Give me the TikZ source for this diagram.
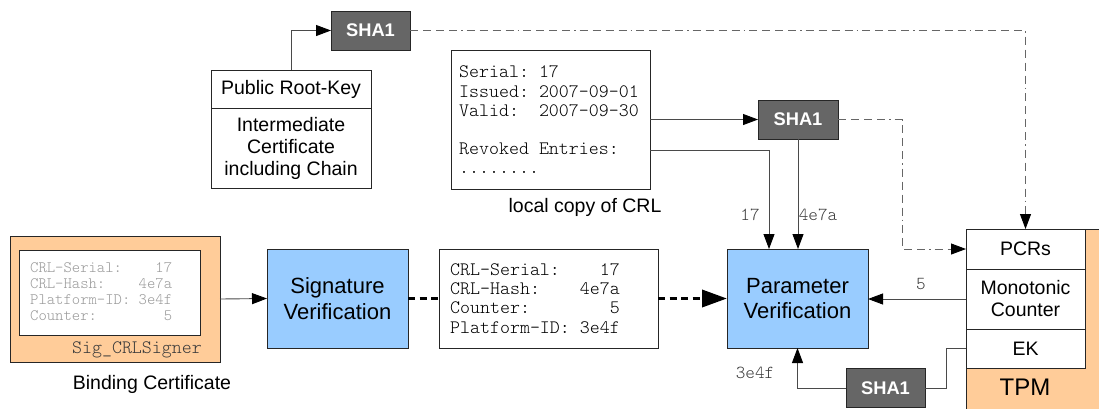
\documentclass[tikz,border=0pt]{standalone}
\usepackage{fontspec}
\setmainfont{Liberation Sans}
\setsansfont{Liberation Sans}
\setmonofont{Latin Modern Mono Light}
\usetikzlibrary{arrows.meta,calc}

\definecolor{hashgray}{HTML}{666666}
\definecolor{vblue}{HTML}{99CCFF}
\definecolor{torange}{HTML}{FFCC99}
\definecolor{linegray}{HTML}{4A4A4A}
\definecolor{labelgray}{HTML}{3A3A3A}
\definecolor{fadedtext}{HTML}{999999}

\begin{document}
\begin{tikzpicture}[x=1pt,y=-1pt,
  box/.style={draw=black!85, line width=0.8pt, inner sep=0pt, outer sep=0pt},
  hashbox/.style={box, fill=hashgray, text=white,
    font=\fontsize{18.3}{20}\selectfont\bfseries,
    minimum width=79pt, minimum height=39pt},
  verifybox/.style={box, fill=vblue, align=center,
    font=\fontsize{22}{25.5}\selectfont,
    minimum width=141pt, minimum height=99pt},
  whitebox/.style={box, fill=white, align=center,
    font=\fontsize{19.5}{22}\selectfont},
  monotext/.style={inner sep=0pt, align=left,
    font=\fontsize{19}{19.2}\selectfont\ttfamily},
  fadedmono/.style={inner sep=0pt, align=left, text=fadedtext,
    font=\fontsize{15.9}{16}\selectfont\ttfamily},
  caption/.style={inner sep=0pt, font=\fontsize{19.5}{22}\selectfont},
  edgelabel/.style={inner sep=0pt, text=labelgray,
    font=\fontsize{18.3}{18}\selectfont\ttfamily},
  tip/.style={-{Triangle[length=15pt,width=11pt,color=black]}},
  conn/.style={draw=linegray, line width=0.9pt},
  bigdash/.style={draw=black, line width=3.6pt, dash pattern=on 7pt off 4.5pt},
  hashlink/.style={draw=hashgray, line width=0.9pt,
    dash pattern=on 8pt off 5pt on 8pt off 5pt on 8pt off 5pt on 8pt off 4pt on 1.5pt off 4pt}
]
\useasboundingbox (0,0) rectangle (1099,408);

% --- root key certificate and its hash
\node[hashbox] (sha1top) at (370.5,30.5) {SHA1};
\node[whitebox, minimum width=160pt, minimum height=38pt] (rootkey) at (291,89) {Public Root-Key};
\node[whitebox, minimum width=160pt, minimum height=80pt] (chain) at (291,148)
  {Intermediate\\Certificate\\including Chain};

% --- local CRL and its hash
\node[box, minimum width=199pt, minimum height=139pt] (crl) at (550.5,119.5) {};
\node[monotext, anchor=west] (crltext) at (459,120)
  {Serial:~17\\Issued:~2007-09-01\\Valid:~~2007-09-30\\[19.2pt]Revoked~Entries:\\........};
\node[caption] (crlcap) at (585,207) {local copy of CRL};
\node[hashbox, minimum width=80pt] (sha1mid) at (798,119.5) {SHA1};

% --- binding certificate
\node[box, fill=torange, minimum width=210pt, minimum height=126pt] (binding) at (115,299) {};
\node[box, fill=white, minimum width=181pt, minimum height=85pt] (bindinner) at (109.5,292.5) {};
\node[fadedmono, anchor=west] (bindtext) at (30,292)
  {CRL-Serial:~~~~17\\CRL-Hash:~~~~4e7a\\Platform-ID:~3e4f\\Counter:~~~~~~~~5};
\node[monotext, text=labelgray, anchor=east] (signer) at (202,350) {Sig\_CRLSigner};
\node[caption] (bindcap) at (152,384) {Binding Certificate};

% --- verification steps
\node[verifybox] (sigver) at (337.5,298.5) {Signature\\Verification};
\node[box, minimum width=219pt, minimum height=99pt] (params) at (548.5,298.5) {};
\node[monotext, anchor=west] (paramtext) at (450,298.5)
  {CRL-Serial:~~~~17\\CRL-Hash:~~~~4e7a\\Counter:~~~~~~~~5\\Platform-ID:~3e4f};
\node[verifybox] (parver) at (797.5,298.5) {Parameter\\Verification};

% --- TPM
\node[box, fill=torange, minimum width=144pt, minimum height=186pt] (tpm) at (1038,322) {};
\node[whitebox, minimum width=119pt, minimum height=40pt] (pcrs) at (1025.5,249) {PCRs};
\node[whitebox, minimum width=119pt, minimum height=60pt] (counter) at (1025.5,299)
  {Monotonic\\Counter};
\node[whitebox, minimum width=119pt, minimum height=39pt] (ek) at (1025.5,348.5) {EK};
\node[inner sep=0pt, font=\fontsize{24}{26}\selectfont] (tpmlabel) at (1025,387) {TPM};
\node[hashbox] (sha1bot) at (885.5,388) {SHA1};

% --- bend points
\coordinate (pcrbend) at (902,249);
\coordinate (ekbend) at (946,348.5);
\coordinate (crlout) at ($(crl.east)+(0,30.5)$);
\coordinate (serialin) at ($(parver.north)+(-28.5,0)$);

% --- connectors
\draw[conn, tip] (rootkey.north) |- (sha1top.west);
\draw[hashlink, tip] (sha1top.east) -| (pcrs.north);
\draw[conn, tip] (crl.east) -- (sha1mid.west);
\draw[conn, tip] (crlout) -| (serialin);
\draw[conn, tip] (sha1mid.south) -- (sha1mid.south |- parver.north);
\draw[hashlink, tip] (sha1mid.east) -| (pcrbend) -- (pcrs.west);
\draw[conn, tip] (counter.west) -- (counter.west -| parver.east);
\draw[conn] (ek.west) -- (ekbend) |- (sha1bot.east);
\draw[conn, tip] (sha1bot.west) -| (parver.south);
\draw[conn, tip] (binding.east) -- (sigver.west);
\draw[bigdash] (sigver.east) -- (params.west);
\draw[bigdash, -{Triangle[length=25pt,width=17pt,color=black]}] (params.east) -- (parver.west);

% --- connector labels
\node[edgelabel] (lblserial) at (750,215) {17};
\node[edgelabel] (lblhash) at (818,215) {4e7a};
\node[edgelabel] (lblcounter) at (921,284) {5};
\node[edgelabel] (lblplatform) at (755,373) {3e4f};
\end{tikzpicture}
\end{document}
